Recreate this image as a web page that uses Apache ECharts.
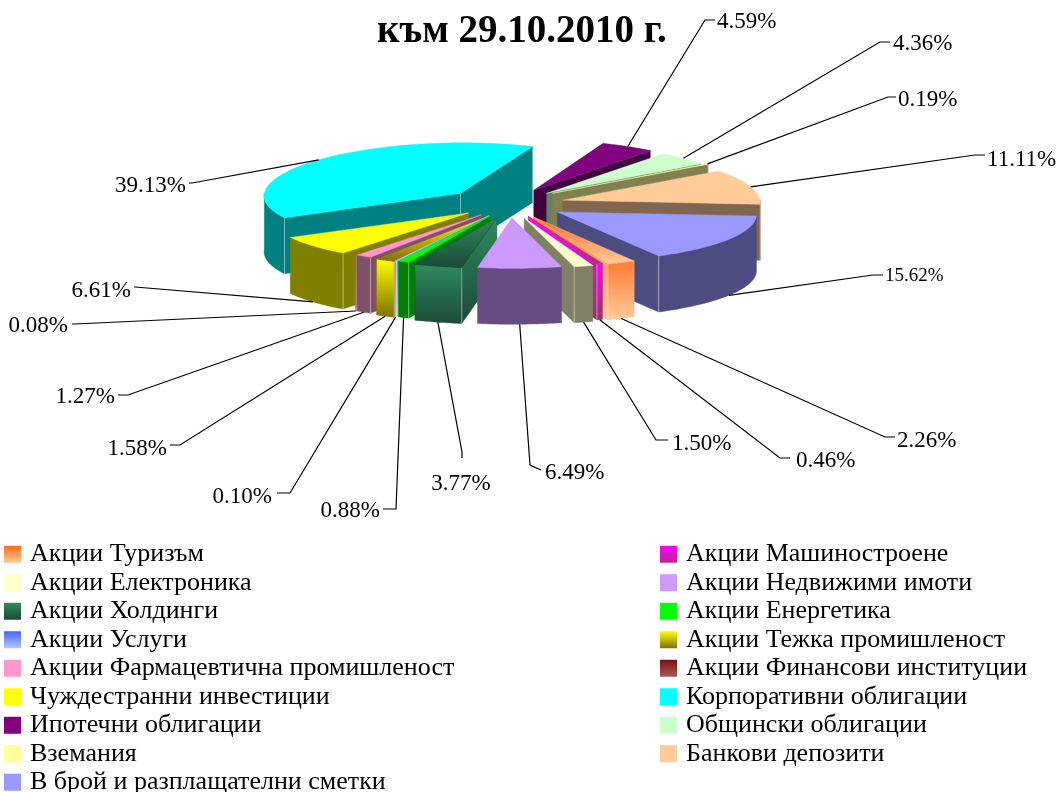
<!DOCTYPE html>
<html>
<head>
<meta charset="utf-8">
<style>
  html, body { margin: 0; padding: 0; background: #fff; overflow: hidden; }
  #chart { width: 1058px; height: 792px; }
</style>
<script src="https://cdn.jsdelivr.net/npm/echarts@6/dist/echarts.min.js"></script>
</head>
<body>
<div id="chart"></div>
<script>
const categories = [
  'Акции Туризъм', 'Акции Машиностроене', 'Акции Електроника', 'Акции Недвижими имоти',
  'Акции Холдинги', 'Акции Енергетика', 'Акции Услуги', 'Акции Тежка промишленост',
  'Акции Фармацевтична промишленост', 'Акции Финансови институции', 'Чуждестранни инвестиции',
  'Корпоративни облигации', 'Ипотечни облигации', 'Общински облигации', 'Вземания',
  'Банкови депозити', 'В брой и разплащателни сметки'
]
const values = [2.26, 0.46, 1.50, 6.49, 3.77, 0.88, 0.10, 1.58, 1.27, 0.08, 6.61, 39.13, 4.59, 4.36, 0.19, 11.11, 15.62]

// colours: top face, wall (two entries means a vertical gradient)
const topColors = [
  ['#ff6a1a', '#ffcc99'], ['#ff00ff', '#b02a8a'], ['#ffffcc'], ['#cc99ff'],
  ['#2e8b5f', '#1c4a38'], ['#00ff00'], ['#4466ff', '#b4c8ff'], ['#ffff00', '#807000'],
  ['#ff99cc'], ['#7a0f10', '#a85a5a'], ['#ffff00'], ['#00ffff'],
  ['#800080'], ['#ccffcc'], ['#ffff99'], ['#ffcc99'], ['#9999ff']
]
const wallColors = [
  ['#ff7a33', '#ffcc99'], ['#ff00ff', '#993366'], ['#808066'], ['#664c80'],
  ['#2e8b5f', '#1c4a38'], ['#008000'], ['#4466ff', '#b4c8ff'], ['#ffff00', '#807000'],
  ['#805066'], ['#7a0f10', '#a85a5a'], ['#808000'], ['#008080'],
  ['#400040'], ['#668066'], ['#808050'], ['#806650'], ['#4c4c80']
]

// how far each slice is pulled out of the pie, seen from above
const pullOut = [
  [21, 46], [16, 44], [12, 50], [0, 50], [-15, 50], [-21, 42], [-23, 42], [-24, 44], [-30, 38],
  [-31, 38], [-43, 31], [-52, -46], [22, -58], [35, -46], [41, -46], [51, -19], [45, 27]
]

// leader lines: elbow points, then label anchor
const leaderBends = [
  [[885, 437], [895, 437]], [[780, 458], [790, 458]], [[656, 440], [668, 440]], [[530, 465], [541, 470]],
  [[462, 452], [462, 458]], [[396, 509], [383, 509]], [[290, 493], [277, 493]], [[180, 445], [170, 445]],
  [[128, 395], [118, 395]], [[75, 324], [72, 324]], [[135, 287], [134, 287]], [[192, 183], [189, 183]],
  [[705, 20], [715, 20]], [[880, 42], [890, 42]], [[888, 97], [896, 97]], [[975, 155], [985, 155]],
  [[873, 275], [883, 275]]
]
const labelAnchors = [
  [897, 441, 'left'], [796, 461, 'left'], [672, 444, 'left'], [545, 473, 'left'],
  [461, 484, 'center'], [380, 511, 'right'], [272, 497, 'right'], [167, 449, 'right'],
  [115, 397, 'right'], [68, 326, 'right'], [131, 291, 'right'], [186, 186, 'right'],
  [717, 22, 'left'], [893, 44, 'left'], [898, 100, 'left'], [987, 160, 'left'],
  [885, 276, 'left']
]

const FONT = '"Liberation Serif", "Times New Roman", serif'
const CX = 512
const CY = 205
const RADIUS = 198
const SQUASH = 0.255
const PERSPECTIVE = 0.04
const DEPTH = 56
const START_ANGLE = 151

function toFill(stops) {
  if (stops.length === 1) return stops[0]
  return new echarts.graphic.LinearGradient(0, 0, 0, 1, [
    { offset: 0, color: stops[0] },
    { offset: 1, color: stops[1] },
  ])
}

const rad = (deg) => (deg * Math.PI) / 180

// value share -> clockwise angle from north
function sliceAngles(i) {
  const before = values.slice(0, i).reduce((a, b) => a + b, 0)
  const total = values.reduce((a, b) => a + b, 0)
  const a0 = echarts.number.linearMap(before, [0, total], [START_ANGLE, START_ANGLE + 360])
  const a1 = echarts.number.linearMap(before + values[i], [0, total], [START_ANGLE, START_ANGLE + 360])
  return [a0, a1]
}

function project(tx, ty, h) {
  const k = 1 + (PERSPECTIVE * ty) / RADIUS
  return [CX + tx * k, CY + ty * SQUASH + h]
}

function makeRenderItem(i) {
  return function () {
    const [a0, a1] = sliceAngles(i)
    const mid = (a0 + a1) / 2
    const [ox, oy] = pullOut[i]
    const at = (deg, r, h) => project(ox + r * Math.sin(rad(deg)), oy - r * Math.cos(rad(deg)), h)
    const wall = wallColors[i]
    const children = []

    const face = (points, fill) => children.push({
      type: 'polygon',
      shape: { points },
      style: { fill: toFill(fill), stroke: fill[fill.length - 1], lineWidth: 0.4 },
    })
    const seam = (deg, r) => children.push({
      type: 'polyline',
      shape: { points: [at(deg, r, 0), at(deg, r, DEPTH)] },
      style: { stroke: 'rgba(255,255,255,0.45)', lineWidth: 1, fill: null },
    })

    const startVisible = Math.sin(rad(a0)) < 0
    const endVisible = Math.sin(rad(a1)) > 0

    // radial walls facing the viewer
    if (startVisible) {
      face([at(a0, 0, 0), at(a0, RADIUS, 0), at(a0, RADIUS, DEPTH), at(a0, 0, DEPTH)], wall)
    }
    if (endVisible) {
      face([at(a1, 0, 0), at(a1, RADIUS, 0), at(a1, RADIUS, DEPTH), at(a1, 0, DEPTH)], wall)
    }

    // outer wall, only the part on the near side (angles run past 360)
    for (const shift of [0, 360]) {
      const from = Math.max(a0, 90 + shift)
      const to = Math.min(a1, 270 + shift)
      if (to <= from) continue
      const upper = []
      const lower = []
      for (let a = from; a < to; a += 1) {
        upper.push(at(a, RADIUS, 0))
        lower.unshift(at(a, RADIUS, DEPTH))
      }
      upper.push(at(to, RADIUS, 0))
      lower.unshift(at(to, RADIUS, DEPTH))
      face(upper.concat(lower), wall)
    }

    if (startVisible) seam(a0, RADIUS)
    if (endVisible) seam(a1, RADIUS)
    if (startVisible && endVisible) seam(a0, 0)

    // top face
    const top = [at(a0, 0, 0)]
    for (let a = a0; a < a1; a += 1) top.push(at(a, RADIUS, 0))
    top.push(at(a1, RADIUS, 0))
    face(top, topColors[i])

    // leader line and percentage
    const near = Math.cos(rad(mid)) < 0
    const start = at(mid, RADIUS, near ? DEPTH : 0)
    children.push({
      type: 'polyline',
      z2: 50,
      shape: { points: [start].concat(leaderBends[i]) },
      style: { stroke: '#000', lineWidth: 1.2, fill: null },
    })
    const [lx, ly, align] = labelAnchors[i]
    children.push({
      type: 'text',
      z2: 51,
      style: {
        x: lx,
        y: ly,
        text: values[i].toFixed(2) + '%',
        fill: '#000',
        font: (i === 16 ? 19 : 23) + 'px ' + FONT,
        textAlign: align,
        textVerticalAlign: 'middle',
      },
    })

    return { type: 'group', children }
  }
}

const chart = echarts.init(document.getElementById('chart'))

function legendColumn(left, names) {
  return {
    orient: 'vertical',
    left,
    top: 541,
    height: 300,
    padding: 0,
    itemWidth: 17,
    itemHeight: 17,
    itemGap: 2,
    selectedMode: false,
    icon: 'rect',
    data: names,
    textStyle: { fontFamily: FONT, fontSize: 26, color: '#000', lineHeight: 26.5, padding: [0, 0, 0, 4] },
  }
}

chart.setOption({
  animation: false,
  title: {
    text: 'към 29.10.2010 г.',
    left: 377,
    top: 12,
    padding: 0,
    textStyle: { fontFamily: FONT, fontWeight: 'bold', fontSize: 39, color: '#000' },
  },
  legend: [
    legendColumn(4, categories.filter((_, i) => i % 2 === 0)),
    legendColumn(660, categories.filter((_, i) => i % 2 === 1)),
  ],
  series: categories.map((name, i) => {
    const [a0, a1] = sliceAngles(i)
    return {
      type: 'custom',
      name,
      coordinateSystem: 'none',
      silent: true,
      z: 10 - Math.cos(rad((a0 + a1) / 2)),
      itemStyle: { color: toFill(topColors[i]) },
      renderItem: makeRenderItem(i),
      data: [[values[i]]],
    }
  }),
})
</script>
</body>
</html>
